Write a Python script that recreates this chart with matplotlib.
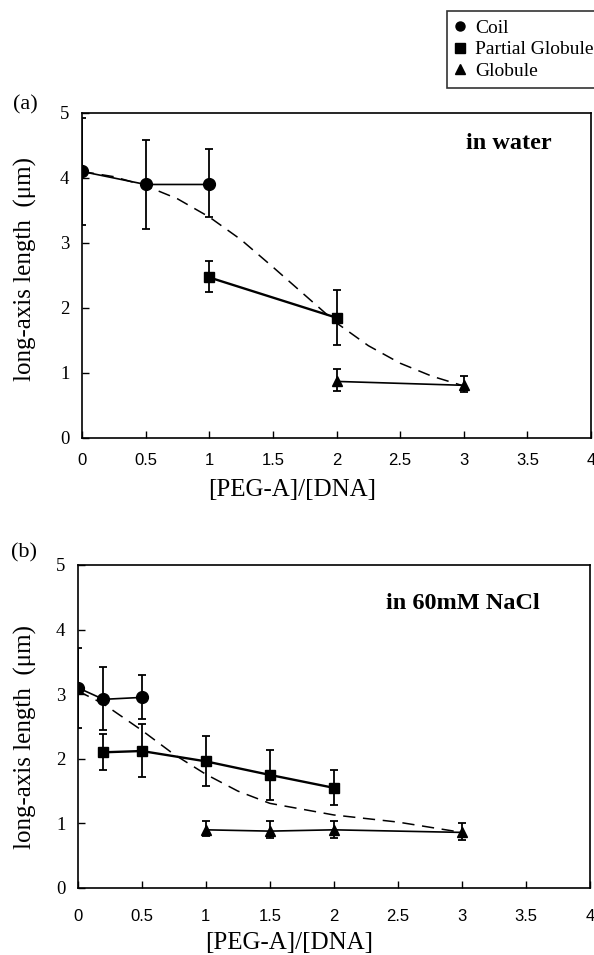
import matplotlib
matplotlib.use("Agg")
import matplotlib.pyplot as plt
from matplotlib.lines import Line2D

# ---------------- data: panel (a) in water ----------------
a_coil_x = [0, 0.5, 1]
a_coil_y = [4.1, 3.9, 3.9]
a_coil_lo = [0.82, 0.68, 0.5]
a_coil_hi = [0.82, 0.68, 0.54]

a_part_x = [1, 2]
a_part_y = [2.47, 1.85]
a_part_lo = [0.22, 0.42]
a_part_hi = [0.25, 0.42]

a_glob_x = [2, 3]
a_glob_y = [0.87, 0.81]
a_glob_lo = [0.15, 0.11]
a_glob_hi = [0.19, 0.15]

a_fit_x = [0, 0.25, 0.5, 0.75, 1, 1.25, 1.5, 1.75, 2, 2.25, 2.5, 2.75, 3]
a_fit_y = [4.1, 4.02, 3.88, 3.68, 3.4, 3.05, 2.63, 2.2, 1.77, 1.42, 1.15, 0.95, 0.8]

# ---------------- data: panel (b) in 60mM NaCl ----------------
b_coil_x = [0, 0.2, 0.5]
b_coil_y = [3.1, 2.92, 2.95]
b_coil_lo = [0.62, 0.47, 0.33]
b_coil_hi = [0.62, 0.5, 0.35]

b_part_x = [0.2, 0.5, 1, 1.5, 2]
b_part_y = [2.1, 2.12, 1.96, 1.75, 1.55]
b_part_lo = [0.28, 0.4, 0.38, 0.39, 0.27]
b_part_hi = [0.28, 0.42, 0.4, 0.39, 0.28]

b_glob_x = [1, 1.5, 2, 3]
b_glob_y = [0.9, 0.88, 0.9, 0.86]
b_glob_lo = [0.1, 0.1, 0.12, 0.12]
b_glob_hi = [0.14, 0.16, 0.14, 0.14]

b_fit_x = [0, 0.2, 0.5, 0.75, 1, 1.25, 1.5, 2, 2.5, 3]
b_fit_y = [3.05, 2.85, 2.44, 2.07, 1.76, 1.5, 1.31, 1.13, 1.02, 0.86]

x_ticks = [0, 0.5, 1, 1.5, 2, 2.5, 3, 3.5, 4]
x_ticklabels = ["0", "0.5", "1", "1.5", "2", "2.5", "3", "3.5", "4"]
y_ticks = [0, 1, 2, 3, 4, 5]
legend_labels = ["Coil", "Partial Globule", "Globule"]

SERIF = ["Liberation Serif", "DejaVu Serif"]
SANS = ["Liberation Sans", "DejaVu Sans"]

fig = plt.figure(figsize=(5.94, 9.55), dpi=100)
ax_a = fig.add_axes([0.138, 0.5414, 0.857, 0.3403])
ax_b = fig.add_axes([0.131, 0.0702, 0.862, 0.3382])


def draw(ax, coil, part, glob, fit, note, note_xy, xpad):
    ax.plot(fit[0], fit[1], color="black", lw=1.1, ls=(0, (8, 5)), zorder=2)
    for (x, y, lo, hi), mk, lw, ms in ((coil, "o", 1.2, 8.5), (part, "s", 1.7, 7.5), (glob, "^", 1.2, 7.5)):
        ax.errorbar(x, y, yerr=[lo, hi], fmt="none", ecolor="black",
                    elinewidth=1.3, capsize=3, capthick=1.3, zorder=3)
        ax.plot(x, y, color="black", lw=lw, marker=mk, ms=ms, zorder=4)
    ax.set_xlim(0, 4)
    ax.set_ylim(0, 5)
    ax.set_xticks(x_ticks)
    ax.set_xticklabels(x_ticklabels, family=SANS, fontsize=12)
    ax.set_yticks(y_ticks)
    ax.set_yticklabels([str(v) for v in y_ticks], family=SERIF, fontsize=13.5)
    ax.tick_params(axis="both", which="both", direction="in", length=5, width=1.0, color="black")
    ax.tick_params(axis="x", pad=xpad)
    ax.tick_params(axis="y", pad=9)
    for s in ax.spines.values():
        s.set_linewidth(1.2)
    ax.set_xlabel("[PEG-A]/[DNA]", family=SERIF, fontsize=18)
    ax.set_ylabel("long-axis length  (\u03bcm)", family=SERIF, fontsize=18)
    ax.text(note_xy[0], note_xy[1], note, family=SERIF, fontsize=17.5,
            fontweight="bold", ha="right", va="center")


draw(ax_a, (a_coil_x, a_coil_y, a_coil_lo, a_coil_hi),
     (a_part_x, a_part_y, a_part_lo, a_part_hi),
     (a_glob_x, a_glob_y, a_glob_lo, a_glob_hi),
     (a_fit_x, a_fit_y), "in water", (3.69, 4.53), 11)
draw(ax_b, (b_coil_x, b_coil_y, b_coil_lo, b_coil_hi),
     (b_part_x, b_part_y, b_part_lo, b_part_hi),
     (b_glob_x, b_glob_y, b_glob_lo, b_glob_hi),
     (b_fit_x, b_fit_y), "in 60mM NaCl", (3.61, 4.4), 15)

ax_a.xaxis.set_label_coords(0.4125, -0.127)
ax_b.xaxis.set_label_coords(0.4125, -0.135)
ax_a.yaxis.set_label_coords(-0.088, 0.52)
ax_b.yaxis.set_label_coords(-0.080, 0.466)

fig.text(0.022, 0.89, "(a)", family=SERIF, fontsize=16, va="center")
fig.text(0.018, 0.421, "(b)", family=SERIF, fontsize=16, va="center")

handles = [Line2D([], [], ls="none", marker="o", color="black", ms=6.5),
           Line2D([], [], ls="none", marker="s", color="black", ms=6.5),
           Line2D([], [], ls="none", marker="^", color="black", ms=6.5)]
leg = fig.legend(handles, legend_labels, loc="upper right",
                 bbox_to_anchor=(1.012, 0.988), prop={"family": SERIF, "size": 14},
                 frameon=True, fancybox=False, handlelength=0.6, handletextpad=0.45,
                 borderpad=0.4, labelspacing=0.2, borderaxespad=0)
leg.get_frame().set_edgecolor("black")
leg.get_frame().set_linewidth(1.2)

fig.savefig("out.png", dpi=100)
